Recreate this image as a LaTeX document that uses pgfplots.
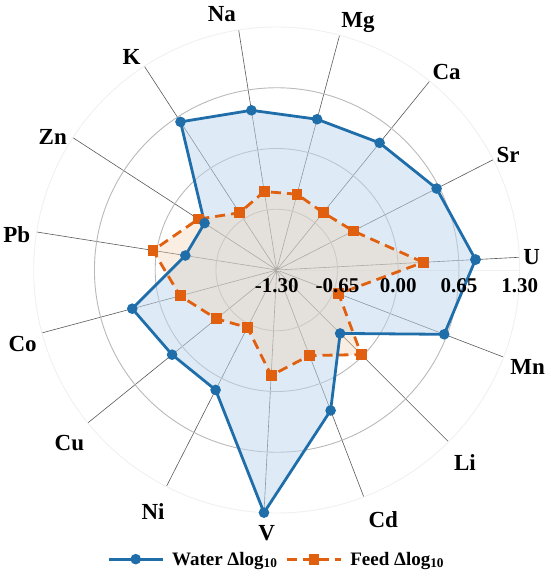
\documentclass[border=0pt]{standalone}
\usepackage{fontspec}
\setmainfont{Liberation Serif}
\usepackage{pgfplots}
\usepackage{pgfplotstable}
\pgfplotsset{compat=1.18}
\usepgfplotslibrary{polar}
\definecolor{wline}{RGB}{31,110,170}
\definecolor{fline}{RGB}{224,96,15}
\definecolor{wfill}{RGB}{189,215,239}
\definecolor{ffill}{RGB}{240,206,172}
\pgfplotsset{
  layers/labeltop/.define layer set={
    axis background,axis grid,axis ticks,axis lines,main,axis tick labels,axis descriptions,axis foreground
  }{/pgfplots/layers/standard},
}
\pgfplotstableread{
angle water feed
3 0.83 0.27
27 0.62 -0.38
51 0.45 -0.51
75 0.37 -0.46
99 0.43 -0.45
123 0.59 -0.57
147 -0.38 -0.30
171 -0.31 0.04
195 0.30 -0.23
219 0.14 -0.47
243 0.14 -0.61
267 1.30 -0.17
291 0.31 -0.32
315 -0.34 -0.02
339 0.62 -0.59
3 0.83 0.27
}\radardata
\begin{document}
\begin{tikzpicture}[lbl/.style={font=\fontsize{23}{26}\selectfont\bfseries, anchor=center, text depth=0pt, inner sep=0pt}]
\begin{polaraxis}[
  set layers=labeltop,
  at={(0pt,0pt)}, anchor=center,
  width=486pt, height=486pt, scale only axis,
  clip=false,
  xmin=0, xmax=360, ymin=0, ymax=2.6,
  xtick={3,27,51,75,99,123,147,171,195,219,243,267,291,315,339},
  xticklabels={},
  ytick={0,0.65,1.3,1.95,2.6},
  yticklabels={\textbf{-1.30},\textbf{-0.65},\textbf{0.00},\textbf{0.65},\textbf{1.30}},
  yticklabel style={font=\fontsize{21}{24}\selectfont\bfseries, anchor=north, yshift=-5pt},
  xmajorgrids=true, ymajorgrids=false,
  extra y ticks={0.65,1.3,1.95}, extra y tick labels={},
  extra y tick style={ymajorgrids=true, major grid style={gray!55, line width=0.9pt}},
  major grid style={black!65, line width=0.6pt},
  axis line style={gray!12, line width=0.9pt},
  major tick length=0pt,
  legend columns=2,
  legend style={at={(0.5,-0.095)}, anchor=center, draw=none, fill=none,
    font=\fontsize{19}{21}\selectfont\bfseries, column sep=6pt},
  legend image code/.code={\draw[mark repeat=2,mark phase=2,#1] plot coordinates {(0pt,0pt) (27pt,0pt) (54pt,0pt)};},
]
\addlegendimage{wline, line width=2.8pt, mark=*, mark size=3.8pt}
\addlegendentry{Water Δlog\textsubscript{10}}
\addlegendimage{fline, line width=2.8pt, dash pattern=on 10pt off 6pt, mark=square*, mark size=4pt, mark options={solid}}
\addlegendentry{Feed Δlog\textsubscript{10}}
\addplot[draw=none, fill=wfill, fill opacity=0.5, forget plot] table[x=angle, y expr=\thisrow{water}+1.3] {\radardata};
\addplot[draw=none, fill=ffill, fill opacity=0.35, forget plot] table[x=angle, y expr=\thisrow{feed}+1.3] {\radardata};
\addplot[fline, line width=2.8pt, dash pattern=on 10pt off 6pt, mark=square*, mark size=4pt, mark options={solid}, forget plot] table[x=angle, y expr=\thisrow{feed}+1.3] {\radardata};
\addplot[wline, line width=2.8pt, mark=*, mark size=3.8pt, forget plot] table[x=angle, y expr=\thisrow{water}+1.3] {\radardata};
\node[lbl] at (axis cs:3.0,2.732) {U};
\node[lbl] at (axis cs:26.4,2.764) {Sr};
\node[lbl] at (axis cs:49.4,2.795) {Ca};
\node[lbl] at (axis cs:72.0,2.818) {Mg};
\node[lbl] at (axis cs:102.1,2.801) {Na};
\node[lbl] at (axis cs:124.3,2.754) {K};
\node[lbl] at (axis cs:149.2,2.789) {Zn};
\node[lbl] at (axis cs:172.3,2.807) {Pb};
\node[lbl] at (axis cs:196.2,2.831) {Co};
\node[lbl] at (axis cs:219.9,2.892) {Cu};
\node[lbl] at (axis cs:242.9,2.904) {Ni};
\node[lbl] at (axis cs:267.8,2.819) {V};
\node[lbl] at (axis cs:293.1,2.908) {Cd};
\node[lbl] at (axis cs:314.3,2.885) {Li};
\node[lbl] at (axis cs:338.9,2.878) {Mn};
\end{polaraxis}
\pgfresetboundingbox
\path[use as bounding box] (-276.7pt,-306pt) rectangle (273.3pt,270pt);
\end{tikzpicture}
\end{document}
